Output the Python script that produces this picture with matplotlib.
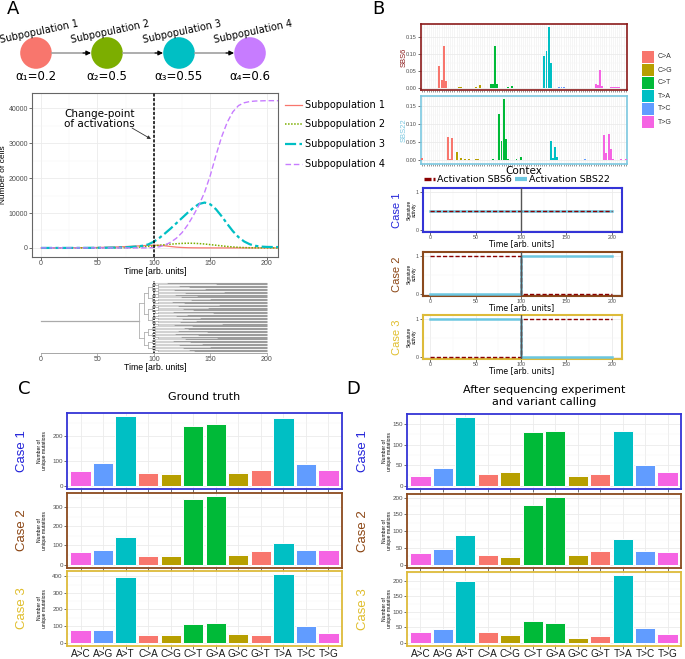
import numpy as np
import matplotlib
matplotlib.use('Agg')
import matplotlib.pyplot as plt
from matplotlib.patches import Circle, Rectangle
from matplotlib.ticker import MultipleLocator

# ---------------- DATA ----------------
subpop_names = ['Subpopulation 1', 'Subpopulation 2', 'Subpopulation 3', 'Subpopulation 4']
subpop_colors = ['#F8766D', '#7CAE00', '#00BFC4', '#C77CFF']
alpha_labels = ['α₁=0.2', 'α₂=0.5', 'α₃=0.55', 'α₄=0.6']

time_pts = list(range(0, 215, 5))
cells_sub1 = [0, 0, 5, 10, 20, 30, 45, 60, 80, 100, 130, 170, 210, 260, 320, 390, 470, 560, 650, 730,
              790, 760, 600, 400, 230, 120, 60, 30, 15, 8, 5, 3, 2, 1, 0, 0, 0, 0, 0, 0, 0, 0, 0]
cells_sub2 = [0, 0, 0, 0, 0, 0, 0, 0, 0, 0, 0, 0, 0, 10, 30, 60, 110, 180, 280, 420,
              580, 760, 930, 1080, 1200, 1300, 1350, 1330, 1250, 1120, 950, 770, 590, 420, 280, 170, 100,
              55, 30, 15, 8, 4, 2]
cells_sub3 = [0, 0, 0, 0, 0, 5, 10, 15, 20, 30, 40, 55, 75, 100, 140, 200, 290, 420, 620, 1000,
              1800, 2900, 4200, 5600, 7100, 8600, 10100, 11500, 12600, 13000, 12500, 11100, 9100, 6900,
              4800, 3100, 1850, 1050, 600, 380, 290, 260, 250]
cells_sub4 = [0, 0, 0, 0, 0, 0, 0, 0, 0, 0, 0, 0, 0, 0, 0, 0, 0, 0, 0, 30,
              100, 350, 850, 1650, 2800, 4400, 6600, 9300, 12300, 16000, 20800, 26500, 31800, 36000,
              39000, 40800, 41600, 41950, 42100, 42150, 42200, 42200, 42200]
cells_all = [cells_sub1, cells_sub2, cells_sub3, cells_sub4]
change_point = 100

# phylogeny (simplified): node times by depth and per-leaf time of colour change
tree_depth_times = [87, 91, 95, 98, 101, 104, 108]
leaf_switch = [112, 155, 122, 131, 145, 118, 162, 128, 119, 138, 124, 150, 133, 116, 127, 158,
               121, 148, 126, 135, 117, 152, 129, 120, 141, 125, 137, 123, 160, 118, 134, 127,
               130, 121, 147, 119, 139, 124, 156, 128, 117, 132, 143, 122, 150, 126, 131, 136]
root_split = 30

# signatures (96 contexts, 16 per substitution class)
sig_classes = ['C>A', 'C>G', 'C>T', 'T>A', 'T>C', 'T>G']
sig_colors = ['#F8766D', '#B79F00', '#00BA38', '#00BFC4', '#619CFF', '#F564E3']
sbs6_CA = [0.002, 0.001, 0.002, 0.001, 0.002, 0.001, 0.001, 0.002, 0.064, 0.024, 0.124, 0.022, 0.002, 0.001, 0.001, 0.002]
sbs6_CG = [0.001, 0.003, 0.004, 0.001, 0.001, 0.001, 0.001, 0.001, 0.001, 0.004, 0.002, 0.009, 0.001, 0.001, 0.001, 0.001]
sbs6_CT = [0.012, 0.013, 0.123, 0.013, 0.001, 0.001, 0.001, 0.002, 0.003, 0.001, 0.006, 0.002, 0.001, 0.001, 0.002, 0.001]
sbs6_TA = [0.001, 0.001, 0.001, 0.001, 0.001, 0.001, 0.001, 0.001, 0.001, 0.093, 0.109, 0.178, 0.075, 0.001, 0.001, 0.001]
sbs6_TC = [0.003, 0.004, 0.003, 0.001, 0.001, 0.001, 0.001, 0.001, 0.001, 0.001, 0.001, 0.001, 0.001, 0.001, 0.001, 0.001]
sbs6_TG = [0.001, 0.013, 0.011, 0.053, 0.006, 0.001, 0.001, 0.001, 0.003, 0.003, 0.003, 0.003, 0.003, 0.001, 0.001, 0.001]
sbs22_CA = [0.006, 0.001, 0.001, 0.001, 0.001, 0.001, 0.001, 0.002, 0.001, 0.001, 0.001, 0.002, 0.063, 0.005, 0.061, 0.002]
sbs22_CG = [0.024, 0.001, 0.007, 0.001, 0.003, 0.001, 0.003, 0.001, 0.001, 0.003, 0.003, 0.001, 0.001, 0.001, 0.001, 0.001]
sbs22_CT = [0.001, 0.003, 0.001, 0.001, 0.127, 0.054, 0.168, 0.060, 0.005, 0.001, 0.001, 0.001, 0.004, 0.001, 0.008, 0.001]
sbs22_TA = [0.001, 0.001, 0.001, 0.001, 0.001, 0.001, 0.001, 0.002, 0.002, 0.001, 0.001, 0.001, 0.053, 0.007, 0.038, 0.010]
sbs22_TC = [0.001, 0.001, 0.001, 0.001, 0.001, 0.001, 0.001, 0.001, 0.001, 0.001, 0.001, 0.001, 0.004, 0.001, 0.001, 0.001]
sbs22_TG = [0.001, 0.001, 0.001, 0.001, 0.001, 0.070, 0.021, 0.073, 0.030, 0.004, 0.001, 0.001, 0.001, 0.005, 0.001, 0.005]
sbs6 = [sbs6_CA, sbs6_CG, sbs6_CT, sbs6_TA, sbs6_TC, sbs6_TG]
sbs22 = [sbs22_CA, sbs22_CG, sbs22_CT, sbs22_TA, sbs22_TC, sbs22_TG]

# signature activity per case (step function at times)
act_times = [0, 100, 200]
act_sbs6 = {1: [0.5, 0.5, 0.5], 2: [1, 0, 0], 3: [0, 1, 1]}
act_sbs22 = {1: [0.5, 0.5, 0.5], 2: [0, 1, 1], 3: [1, 0, 0]}

# mutation spectra
mut_types = ['A>C', 'A>G', 'A>T', 'C>A', 'C>G', 'C>T', 'G>A', 'G>C', 'G>T', 'T>A', 'T>C', 'T>G']
mut_colors = ['#F564E3', '#619CFF', '#00BFC4', '#F8766D', '#B79F00', '#00BA38',
              '#00BA38', '#B79F00', '#F8766D', '#00BFC4', '#619CFF', '#F564E3']
gt_case1 = [57, 89, 278, 51, 47, 240, 246, 49, 62, 273, 86, 61]
gt_case2 = [67, 77, 144, 44, 44, 343, 357, 49, 72, 112, 74, 74]
gt_case3 = [76, 76, 396, 48, 44, 114, 116, 50, 46, 412, 100, 60]
seq_case1 = [24, 44, 166, 29, 34, 130, 134, 23, 29, 134, 50, 34]
seq_case2 = [34, 47, 88, 29, 22, 177, 201, 29, 40, 77, 40, 38]
seq_case3 = [34, 43, 201, 33, 25, 70, 63, 16, 22, 218, 49, 29]

case_names = ['Case 1', 'Case 2', 'Case 3']
case_colors = ['#2323D9', '#8B4513', '#E0BE2C']
case_border = ['#3434D6', '#8B4A1E', '#DDBB3A']

# ---------------- FIGURE ----------------
W, H = 685, 659
plt.rcParams['font.family'] = ['Liberation Sans', 'DejaVu Sans']
fig = plt.figure(figsize=(W / 100, H / 100), dpi=100)
DJ = ['DejaVu Sans']
GRID_MAJ = '#EBEBEB'
GRID_MIN = '#F5F5F5'
TXT = '#4D4D4D'


def pax(x0, y0, x1, y1):
    return fig.add_axes([x0 / W, 1 - y1 / H, (x1 - x0) / W, (y1 - y0) / H])


ov = pax(0, 0, W, H)
ov.set_xlim(0, W)
ov.set_ylim(H, 0)
ov.axis('off')
ov.patch.set_alpha(0)
ov.set_zorder(10)


def style_gg(ax, border='#555555', lw=0.8, fs=4.5):
    for s in ax.spines.values():
        s.set_color(border)
        s.set_linewidth(lw)
    ax.set_axisbelow(True)
    ax.grid(True, which='major', color=GRID_MAJ, lw=0.6)
    ax.grid(True, which='minor', color=GRID_MIN, lw=0.35)
    ax.tick_params(which='major', length=2, width=0.5, color='#333333', labelsize=fs,
                   labelcolor=TXT, pad=1)
    ax.tick_params(which='minor', length=0)


# panel letters
for lab, (x, y) in zip('ABCD', [(13, 9), (378, 9), (24, 389), (353, 389)]):
    ov.text(x, y, lab, fontsize=13, ha='center', va='center', family=DJ)

# ---------- Panel A: subpopulation chain ----------
cx = [36, 107, 179, 250]
cy = 53
for i in range(4):
    ov.add_patch(Circle((cx[i], cy), 15.8, color=subpop_colors[i], lw=0))
    ov.text(cx[i] + 3, cy - 21, subpop_names[i], fontsize=7, rotation=12, ha='center',
            va='center', family=DJ, rotation_mode='anchor')
    ov.text(cx[i], cy + 23, alpha_labels[i], fontsize=8.5, ha='center', va='center', family=DJ)
    if i < 3:
        ov.plot([cx[i] + 16, cx[i + 1] - 22], [cy, cy], color='#A0A0A0', lw=1.2)
        ov.annotate('', xy=(cx[i + 1] - 16, cy), xytext=(cx[i + 1] - 24, cy),
                    arrowprops=dict(arrowstyle='-|>', color='black', lw=0.8,
                                    mutation_scale=7, shrinkA=0, shrinkB=0))

# ---------- Panel A: population dynamics ----------
axA = pax(32, 93, 278, 257)
styles = [dict(ls='-', lw=0.9), dict(ls=(0, (1, 1)), lw=1.1), dict(ls=(0, (5, 1.5, 1.5, 1.5)), lw=1.6),
          dict(ls=(0, (4, 2)), lw=1.0)]
for i in range(4):
    axA.plot(time_pts, cells_all[i], color=subpop_colors[i], **styles[i], zorder=3)
axA.axvline(change_point, color='black', lw=1.1, ls=(0, (2, 1)), zorder=4)
axA.set_xlim(-8, 210)
axA.set_ylim(-2600, 44400)
axA.xaxis.set_major_locator(MultipleLocator(50))
axA.xaxis.set_minor_locator(MultipleLocator(25))
axA.yaxis.set_major_locator(MultipleLocator(10000))
axA.yaxis.set_minor_locator(MultipleLocator(5000))
style_gg(axA, border='#666666', lw=0.8, fs=5)
axA.tick_params(axis='x', pad=0.5)
ov.text(4, 175, 'Number of cells', fontsize=6, rotation=90, ha='center', va='center')
ov.text(155, 271, 'Time [arb. units]', fontsize=6.3, ha='center', va='center')
ov.text(64, 119, 'Change-point\nof activations', fontsize=7.5, ha='left', va='center', family=DJ,
        linespacing=1.05)
ov.annotate('', xy=(151, 139), xytext=(132, 128),
            arrowprops=dict(arrowstyle='-|>', color='#333333', lw=0.6, mutation_scale=5,
                            shrinkA=0, shrinkB=0))
# legend
leg_y = [105, 124, 144, 164]
for i in range(4):
    ov.plot([285, 302], [leg_y[i], leg_y[i]], color=subpop_colors[i], **styles[i])
    ov.text(305, leg_y[i], subpop_names[i], fontsize=7, ha='left', va='center', family=DJ)

# ---------- Panel A: tree ----------
axT = pax(32, 281, 278, 353)
LIGHT, DARK, CONN = '#D2D2D2', '#9C9C9C', '#B0B0B0'


def draw_clade(lo, hi, depth, t_parent):
    if hi - lo == 1:
        ts = leaf_switch[lo]
        axT.plot([t_parent, ts], [lo, lo], color=LIGHT, lw=0.8, solid_capstyle='butt')
        axT.plot([ts, 200], [lo, lo], color=DARK, lw=0.8, solid_capstyle='butt')
        return lo
    t = tree_depth_times[min(depth, len(tree_depth_times) - 1)]
    mid = root_split if depth == 0 else (lo + hi) // 2
    y1 = draw_clade(lo, mid, depth + 1, t)
    y2 = draw_clade(mid, hi, depth + 1, t)
    yc = (y1 + y2) / 2
    axT.plot([t_parent, t], [yc, yc], color=CONN if depth else '#AAAAAA', lw=0.6 if depth else 0.9)
    axT.plot([t, t], [y1, y2], color=CONN, lw=0.6)
    return yc


draw_clade(0, len(leaf_switch), 0, 0)
axT.axvline(change_point, color='black', lw=1.1, ls=(0, (1, 0.8)), zorder=5)
axT.set_xlim(-8, 210)
axT.set_ylim(len(leaf_switch) + 0.4, -1.4)
for s in ['top', 'right', 'left']:
    axT.spines[s].set_visible(False)
axT.spines['bottom'].set_bounds(0, 200)
axT.spines['bottom'].set_color('#999999')
axT.spines['bottom'].set_linewidth(0.6)
axT.set_yticks([])
axT.set_xticks([0, 50, 100, 150, 200])
axT.tick_params(length=2, width=0.5, color='#999999', labelsize=5, labelcolor=TXT, pad=0.5)
axT.patch.set_alpha(0)
ov.text(155, 368, 'Time [arb. units]', fontsize=6.3, ha='center', va='center')

# ---------- Panel B: signatures ----------
def sig_panel(box, data, ylim, border, name):
    ax = pax(*box)
    x = np.arange(1, 97)
    vals = [v for cls in data for v in cls]
    cols = [sig_colors[k] for k in range(6) for _ in range(16)]
    ax.bar(x, vals, width=0.9, color=cols, lw=0, zorder=3)
    ax.set_xlim(0.4, 96.6)
    ax.set_ylim(*ylim)
    ax.set_xticks(x)
    ax.set_xticklabels([])
    ax.yaxis.set_minor_locator(MultipleLocator(0.025))
    ax.set_yticks([0, 0.05, 0.10, 0.15])
    ax.set_yticklabels(['0.00', '0.05', '0.10', '0.15'])
    style_gg(ax, border=border, lw=1.2, fs=4)
    ax.grid(True, axis='x', which='major', color='#EEEEEE', lw=0.4)
    ax.tick_params(axis='x', length=1.6, width=0.4, color='#444444')
    ov.text(box[0] - 17, (box[1] + box[3]) / 2, name, fontsize=5.5, rotation=90,
            color=border, ha='center', va='center')
    return ax


sig_panel((421, 24, 627, 90), sbs6, (-0.005, 0.188), '#8B1A1A', 'SBS6')
sig_panel((421, 96, 627, 164), sbs22, (-0.01, 0.177), '#7CC8E0', 'SBS22')
ov.text(524, 171, 'Contex', fontsize=7.5, ha='center', va='center', family=DJ)
sq_y = [57, 70, 83, 96, 109, 122]
for k in range(6):
    ov.add_patch(Rectangle((642, sq_y[k] - 6), 12, 12, color=sig_colors[k], lw=0))
    ov.text(658, sq_y[k], sig_classes[k], fontsize=5, ha='left', va='center', color='#333333')

# ---------- Panel B: cases ----------
ov.plot([424, 431], [179, 179], color='#8B0000', lw=2.4, solid_capstyle='butt')
ov.plot([433, 435], [179, 179], color='#8B0000', lw=2.4, solid_capstyle='butt')
ov.text(437, 179, 'Activation SBS6', fontsize=6.8, ha='left', va='center', family=DJ)
ov.plot([515, 527], [179, 179], color='#6CC7E0', lw=3, solid_capstyle='butt')
ov.text(529, 179, 'Activation SBS22', fontsize=6.8, ha='left', va='center', family=DJ)

case_boxes = [(423, 188, 622, 232), (423, 252, 622, 296), (423, 315, 622, 359)]
case_xlab_y = [244, 308, 371]
for c in range(3):
    ax = pax(*case_boxes[c])
    ax.step(act_times, act_sbs22[c + 1], where='post', color='#6CC7E0', lw=1.8, zorder=3)
    ax.step(act_times, act_sbs6[c + 1], where='post', color='#8B0000', lw=1.0,
            ls=(0, (3, 1.5)), zorder=4)
    ax.axvline(change_point, color='#555555', lw=1.0, zorder=5)
    ax.set_xlim(-7.7, 211)
    ax.set_ylim(-0.05, 1.1)
    ax.set_yticks([0, 1])
    ax.xaxis.set_major_locator(MultipleLocator(50))
    ax.xaxis.set_minor_locator(MultipleLocator(25))
    ax.yaxis.set_minor_locator(MultipleLocator(0.5))
    style_gg(ax, border=case_border[c], lw=1.5, fs=3.8)
    ax.tick_params(axis='x', pad=0.5)
    ov.text(522, case_xlab_y[c], 'Time [arb. units]', fontsize=5.6, ha='center', va='center', family=DJ)
    yc = (case_boxes[c][1] + case_boxes[c][3]) / 2
    ov.text(397, yc, case_names[c], fontsize=8, rotation=90, color=case_colors[c],
            ha='center', va='center')
    ov.text(412, yc, 'Signature\nactivity', fontsize=3.3, rotation=90, ha='center',
            va='center', linespacing=1.0)

# ---------- Panels C and D ----------
ov.text(204, 397, 'Ground truth', fontsize=8, ha='center', va='center', family=DJ)
ov.text(544, 396, 'After sequencing experiment\nand variant calling', fontsize=8, ha='center',
        va='center', family=DJ, linespacing=1.3)


def bar_panel(box, vals, step, c, show_x, case_x, lab_x):
    ax = pax(*box)
    x = np.arange(1, 13)
    ax.bar(x, vals, width=0.9, color=mut_colors, edgecolor='white', lw=0.7, zorder=3)
    ax.set_xlim(0.4, 12.6)
    m = max(vals)
    ax.set_ylim(-0.05 * m, 1.05 * m)
    ax.set_xticks(x)
    ax.yaxis.set_major_locator(MultipleLocator(step))
    ax.yaxis.set_minor_locator(MultipleLocator(step / 2))
    style_gg(ax, border=case_border[c], lw=1.3, fs=4.5)
    if show_x:
        ax.set_xticklabels(mut_types, fontsize=7.2, color='#1A1A1A')
        ax.tick_params(axis='x', pad=0.5)
    else:
        ax.set_xticklabels([])
    yc = (box[1] + box[3]) / 2
    ov.text(case_x, yc, case_names[c], fontsize=9.5, rotation=90, color=case_colors[c],
            ha='center', va='center')
    ov.text(lab_x, yc, 'Number of\nunique mutations', fontsize=3.6, rotation=90,
            ha='center', va='center', linespacing=1.0)


gt_all = [gt_case1, gt_case2, gt_case3]
seq_all = [seq_case1, seq_case2, seq_case3]
c_boxes = [(67, 413, 342, 489), (67, 493, 342, 568), (67, 571, 342, 646)]
d_boxes = [(407, 414, 681, 489), (407, 494, 681, 568), (407, 572, 681, 646)]
for c in range(3):
    bar_panel(c_boxes[c], gt_all[c], 100, c, c == 2, 22, 42)
    bar_panel(d_boxes[c], seq_all[c], 50, c, c == 2, 363, 387)

fig.savefig('out.png', dpi=100)
